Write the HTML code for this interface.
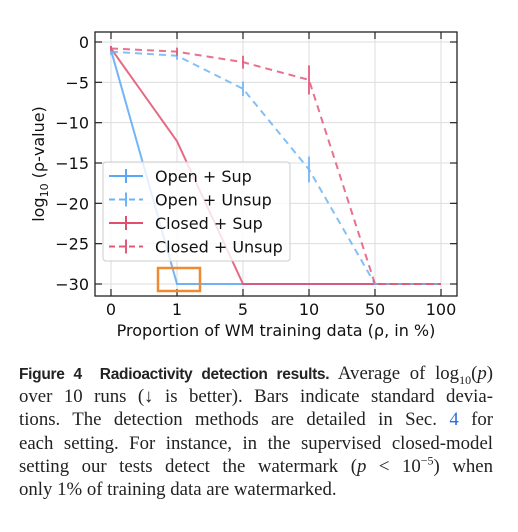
<!DOCTYPE html>
<html><head><meta charset="utf-8"><style>
body{margin:0;width:518px;height:532px;background:#fff;overflow:hidden}
svg text{font-family:"DejaVu Sans",sans-serif}
.cap{position:absolute;left:19px;top:362px;width:474px;font-family:"Liberation Serif",serif;font-size:18.8px;color:#222}
.cap div{height:23.2px;line-height:23.2px;text-align:justify;text-align-last:justify;white-space:nowrap}
.cap div.last{text-align-last:left}
.cap b{font-family:"Liberation Sans",sans-serif;font-size:15.5px;letter-spacing:-0.3px}
.cap sub,.cap sup{font-size:12px;line-height:0}
</style></head><body>
<svg id="chart" width="518" height="350" style="position:absolute;left:0;top:0" xmlns="http://www.w3.org/2000/svg"></svg>
<div class="cap">
<div><b>Figure 4&nbsp; Radioactivity detection results.</b> Average of log<sub>10</sub>(<i>p</i>)</div>
<div>over 10 runs (↓ is better). Bars indicate standard devia-</div>
<div>tions. The detection methods are detailed in Sec. <span style="color:#2a6fdb">4</span> for</div>
<div>each setting. For instance, in the supervised closed-model</div>
<div>setting our tests detect the watermark (<i>p</i> &lt; 10<sup>−5</sup>) when</div>
<div class="last">only 1% of training data are watermarked.</div>
</div>
<script>
const categories=["0","1","5","10","50","100"];
const yTicks=[0,-5,-10,-15,-20,-25,-30];
const openSup=[-1,-30,-30,-30,-30,-30];
const openSupErr=[0.3,0,0,0,0,0];
const openUnsup=[-1.2,-1.7,-5.8,-15.8,-30,-30];
const openUnsupErr=[0.4,0.5,0.9,1.6,0,0];
const closedSup=[-0.8,-12.3,-30,-30,-30,-30];
const closedSupErr=[0.3,0,0,0,0,0];
const closedUnsup=[-0.8,-1.2,-2.5,-4.7,-30,-30];
const closedUnsupErr=[0.3,0.5,0.8,1.8,0,0];
const NS="http://www.w3.org/2000/svg";
const svg=document.getElementById('chart');
const L=95,R=457,T=32,B=296;
const xs=i=>111+i*66;
const ys=v=>42+(-v)*(242/30);
function el(t,a,p){const e=document.createElementNS(NS,t);for(const k in a)e.setAttribute(k,a[k]);(p||svg).appendChild(e);return e;}
yTicks.forEach(v=>{const g=el('line',{x1:L,x2:R,y1:ys(v),y2:ys(v),stroke:'#ddd','stroke-width':1});


el('line',{x1:L,x2:L+7,y1:ys(v),y2:ys(v),stroke:'#222','stroke-width':1.2});
el('line',{x1:R-7,x2:R,y1:ys(v),y2:ys(v),stroke:'#222','stroke-width':1.2});
const tx=el('text',{x:L-6,y:ys(v)+6,'text-anchor':'end','font-size':16,fill:'#111'});
tx.textContent=v===0?'0':'−'+(-v);

});
categories.forEach((c,i)=>{const g=el('line',{x1:xs(i),x2:xs(i),y1:T,y2:B,stroke:'#ddd','stroke-width':1});


el('line',{x1:xs(i),x2:xs(i),y1:B-7,y2:B,stroke:'#222','stroke-width':1.2});
el('line',{x1:xs(i),x2:xs(i),y1:T,y2:T+7,stroke:'#222','stroke-width':1.2});
const tx=el('text',{x:xs(i),y:B+19,'text-anchor':'middle','font-size':16,fill:'#111'});
tx.textContent=c;

});
const series=[[openSup,openSupErr,'#5aa8f5',null,'open-sup'],[closedSup,closedSupErr,'#e0506e',null,'closed-sup'],[openUnsup,openUnsupErr,'#6db4f7','7,5','open-unsup'],[closedUnsup,closedUnsupErr,'#e4587a','7,5','closed-unsup']];
series.forEach(([d,e,c,dash,n])=>{
const p=el('polyline',{points:d.map((v,i)=>xs(i)+','+ys(v)).join(' '),fill:'none',stroke:c,'stroke-width':2,'stroke-opacity':0.85});
if(dash)p.setAttribute('stroke-dasharray',dash);


d.forEach((v,i)=>{if(e[i]>0){const b=el('line',{x1:xs(i),x2:xs(i),y1:ys(v-e[i]),y2:ys(v+e[i]),stroke:c,'stroke-width':2,'stroke-opacity':0.85});

}});});
el('rect',{x:L,y:T,width:R-L,height:B-T,fill:'none',stroke:'#222','stroke-width':1.3});
const lg=el('g',{});


el('rect',{x:103,y:162,width:187,height:99,rx:3,fill:'#fff','fill-opacity':0.8,stroke:'#ccc'},lg);
const names=['Open + Sup','Open + Unsup','Closed + Sup','Closed + Unsup'];
const lc=['#5aa8f5','#6db4f7','#e0506e','#e4587a'];const ld=[null,'6,4',null,'6,4'];
names.forEach((nm,k)=>{const y=176+k*23.5;
const l=el('line',{x1:109,x2:143,y1:y,y2:y,stroke:lc[k],'stroke-width':2},lg);if(ld[k])l.setAttribute('stroke-dasharray',ld[k]);
el('line',{x1:126,x2:126,y1:y-7,y2:y+7,stroke:lc[k],'stroke-width':2},lg);
const t=el('text',{x:155,y:y+6,'font-size':16,fill:'#111'},lg);t.textContent=nm;

});
const ob=el('rect',{x:158,y:268,width:42,height:23,fill:'none',stroke:'#f08a30','stroke-width':2.5});


const xl=el('text',{x:276,y:336,'text-anchor':'middle','font-size':16,fill:'#111'});
xl.textContent='Proportion of WM training data (ρ, in %)';


const yl=el('text',{x:0,y:0,'text-anchor':'middle','font-size':16,fill:'#111',transform:'translate(44,164) rotate(-90)'});
yl.innerHTML='log<tspan font-size="11" dy="4">10</tspan><tspan dy="-4"> (ρ-value)</tspan>';


</script>
</body></html>
